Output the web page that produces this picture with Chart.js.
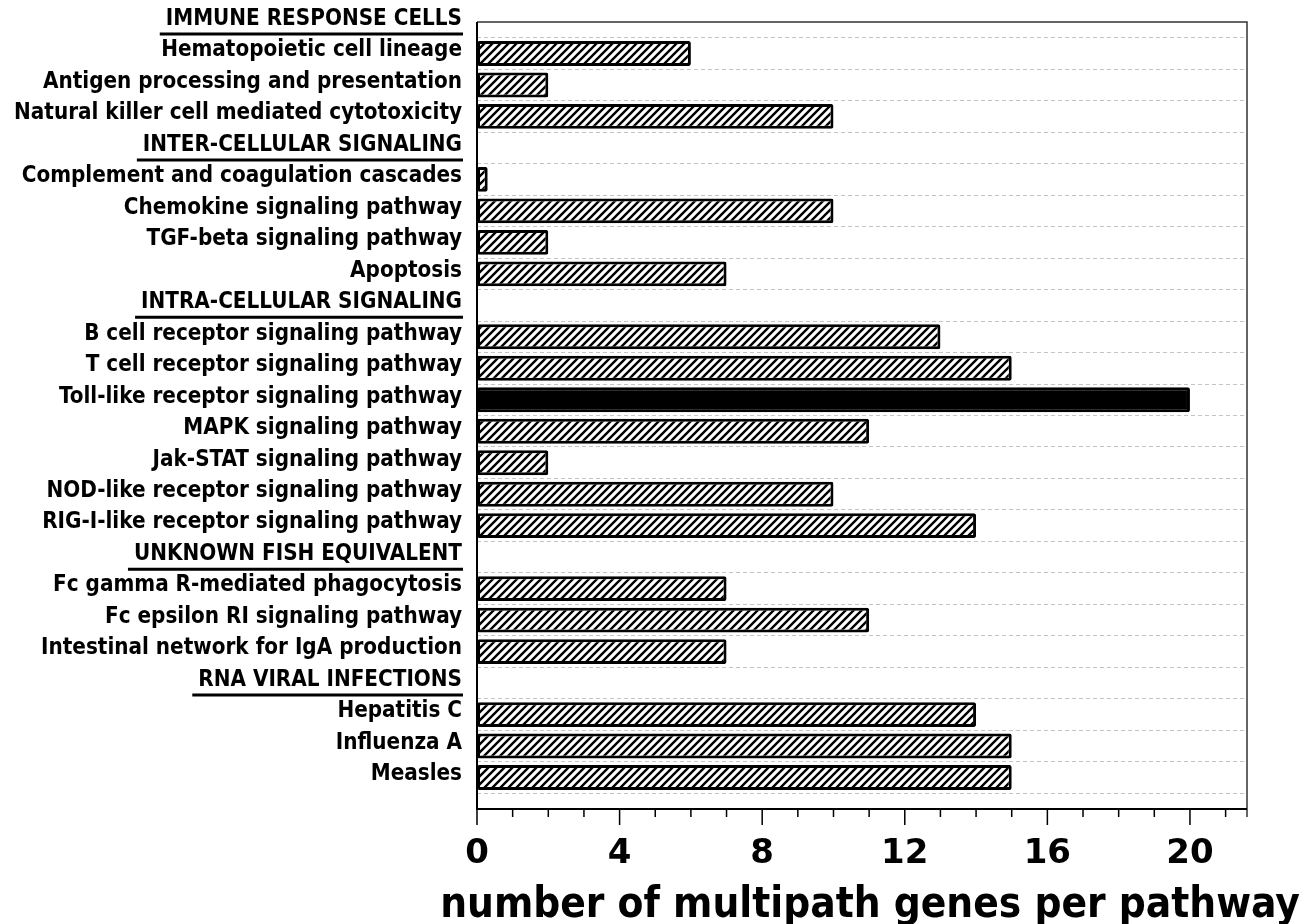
<!DOCTYPE html>
<html>
<head>
<meta charset="utf-8">
<script src="https://cdn.jsdelivr.net/npm/chart.js@4"></script>
<style>
  html, body { margin: 0; padding: 0; background: #fff; }
  #wrap { width: 1309px; height: 924px; }
</style>
</head>
<body>
<div id="wrap"><canvas id="c" width="1309" height="924"></canvas></div>
<script>
// Pathway rows, top to bottom (section headers carry no bar)
const pathways = [
  'IMMUNE RESPONSE CELLS',
  'Hematopoietic cell lineage',
  'Antigen processing and presentation',
  'Natural killer cell mediated cytotoxicity',
  'INTER-CELLULAR SIGNALING',
  'Complement and coagulation cascades',
  'Chemokine signaling pathway',
  'TGF-beta signaling pathway',
  'Apoptosis',
  'INTRA-CELLULAR SIGNALING',
  'B cell receptor signaling pathway',
  'T cell receptor signaling pathway',
  'Toll-like receptor signaling pathway',
  'MAPK signaling pathway',
  'Jak-STAT signaling pathway',
  'NOD-like receptor signaling pathway',
  'RIG-I-like receptor signaling pathway',
  'UNKNOWN FISH EQUIVALENT',
  'Fc gamma R-mediated phagocytosis',
  'Fc epsilon RI signaling pathway',
  'Intestinal network for IgA production',
  'RNA VIRAL INFECTIONS',
  'Hepatitis C',
  'Influenza A',
  'Measles'
];

// Number of multipath genes per pathway (null = section header)
const geneCounts = [
  null, 6, 2, 10,
  null, 0.3, 10, 2, 7,
  null, 13, 15, 20, 11, 2, 10, 14,
  null, 7, 11, 7,
  null, 14, 15, 15
];

const sectionHeaders = [
  'IMMUNE RESPONSE CELLS',
  'INTER-CELLULAR SIGNALING',
  'INTRA-CELLULAR SIGNALING',
  'UNKNOWN FISH EQUIVALENT',
  'RNA VIRAL INFECTIONS'
];

const highlightedPathway = 'Toll-like receptor signaling pathway';

// x axis
const xMin = 0;
const xMax = 21.6;
const xLabelStep = 4;
const xTitle = 'number of multipath genes per pathway';

const LABEL_FAMILY = '"DejaVu Sans Condensed", "DejaVu Sans", sans-serif';
const DIGIT_FAMILY = '"DejaVu Sans", sans-serif';

function fitSize(text, targetWidth, family) {
  const m = document.createElement('canvas').getContext('2d');
  m.font = 'bold 100px ' + family;
  return 100 * targetWidth / m.measureText(text).width;
}

const labelSize = fitSize('Natural killer cell mediated cytotoxicity', 448, LABEL_FAMILY);
const titleSize = fitSize(xTitle, 860, LABEL_FAMILY);
const tickSize = 34;
const labelPad = 15;

const canvas = document.getElementById('c');
const ctx = canvas.getContext('2d');

function makeHatch() {
  const p = document.createElement('canvas');
  p.width = 8; p.height = 8;
  const g = p.getContext('2d');
  g.fillStyle = '#fff';
  g.fillRect(0, 0, 8, 8);
  g.strokeStyle = '#000';
  g.lineWidth = 2.4;
  g.beginPath();
  g.moveTo(-2, 10); g.lineTo(10, -2);
  g.moveTo(-2, 2); g.lineTo(2, -2);
  g.moveTo(6, 10); g.lineTo(10, 6);
  g.stroke();
  return ctx.createPattern(p, 'repeat');
}
const hatch = makeHatch();

// frame, x tick marks, header underlines and the x axis title
const decorations = {
  id: 'decorations',
  afterDraw(chart) {
    const { ctx, chartArea: a, scales: { x, y } } = chart;
    ctx.save();
    // frame
    ctx.strokeStyle = '#333';
    ctx.lineWidth = 1.5;
    ctx.beginPath();
    ctx.moveTo(a.left, a.top); ctx.lineTo(a.right, a.top); ctx.lineTo(a.right, a.bottom + 8);
    ctx.stroke();
    ctx.strokeStyle = '#000';
    ctx.lineWidth = 2;
    ctx.beginPath();
    ctx.moveTo(a.left, a.top); ctx.lineTo(a.left, a.bottom); ctx.lineTo(a.right, a.bottom);
    ctx.stroke();
    // tick marks: long every 4, short every 1
    ctx.lineWidth = 1.5;
    ctx.beginPath();
    for (let v = Math.ceil(xMin); v <= xMax; v++) {
      const px = x.getPixelForValue(v);
      const len = v % xLabelStep === 0 ? 16 : 8;
      ctx.moveTo(px, a.bottom); ctx.lineTo(px, a.bottom + len);
    }
    ctx.stroke();
    // underline section headers
    ctx.font = 'bold ' + labelSize + 'px ' + LABEL_FAMILY;
    ctx.lineWidth = 3;
    ctx.beginPath();
    pathways.forEach((name, i) => {
      if (!sectionHeaders.includes(name)) return;
      const right = y.right - labelPad;
      const w = ctx.measureText(name).width;
      const py = y.getPixelForValue(i) + 12;
      ctx.moveTo(right - w - 6, py); ctx.lineTo(right + 1, py);
    });
    ctx.stroke();
    // x axis title
    ctx.fillStyle = '#000';
    ctx.font = 'bold ' + titleSize + 'px ' + LABEL_FAMILY;
    ctx.textAlign = 'center';
    ctx.textBaseline = 'alphabetic';
    ctx.fillText(xTitle, (a.left + a.right) / 2 + 8, 917);
    ctx.restore();
  }
};

new Chart(ctx, {
  type: 'bar',
  data: {
    labels: [...pathways, ''],
    datasets: [{
      data: geneCounts,
      backgroundColor: c => pathways[c.dataIndex] === highlightedPathway ? '#000' : hatch,
      borderColor: '#000',
      borderWidth: 3,
      borderRadius: 2,
      borderSkipped: false,
      categoryPercentage: 1,
      barPercentage: 0.79
    }]
  },
  options: {
    indexAxis: 'y',
    responsive: false,
    animation: false,
    events: [],
    layout: { padding: { top: 22, right: 62, left: 0, bottom: 0 } },
    plugins: { legend: { display: false }, tooltip: { enabled: false } },
    scales: {
      x: {
        type: 'linear',
        min: xMin,
        max: xMax,
        afterFit(s) { s.height = 115; s.paddingLeft = 0; s.paddingRight = 0; },
        grid: { display: false },
        border: { display: false },
        ticks: {
          stepSize: 1,
          autoSkip: false,
          maxRotation: 0,
          callback: v => (v % xLabelStep === 0 ? String(v) : ''),
          font: { family: DIGIT_FAMILY, weight: 'bold', size: tickSize },
          color: '#000',
          padding: 17
        }
      },
      y: {
        offset: false,
        afterFit(s) { s.width = 477; s.paddingTop = 0; s.paddingBottom = 0; },
        grid: { offset: true, color: '#c4c4c4', lineWidth: 1, drawTicks: false },
        border: { display: false, dash: [4, 3] },
        ticks: {
          autoSkip: false,
          color: '#000',
          font: { family: LABEL_FAMILY, weight: 'bold', size: labelSize },
          padding: labelPad,
          labelOffset: -3
        }
      }
    }
  },
  plugins: [decorations]
});
</script>
</body>
</html>
